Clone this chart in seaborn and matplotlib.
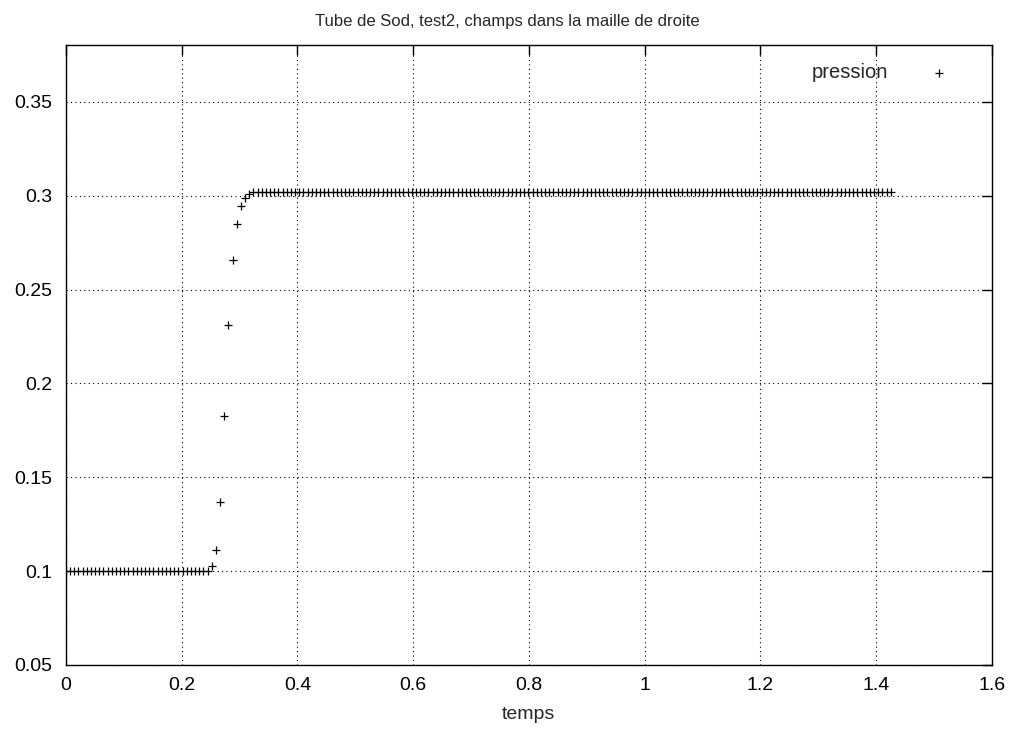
import numpy as np
import pandas as pd
import matplotlib
matplotlib.use('Agg')
import matplotlib.pyplot as plt
import seaborn as sns

# pas de temps (points equidistants)
dt = 0.0072
n_points = 199

# pression dans la maille de droite
p_gauche = [0.1] * 35
p_choc = [0.1028, 0.1114, 0.1367, 0.1826, 0.2312, 0.2657, 0.2849, 0.2944, 0.2986, 0.3009]
p_droite = [0.3021] * (n_points - len(p_gauche) - len(p_choc))
pression = p_gauche + p_choc + p_droite

xticks = [0, 0.2, 0.4, 0.6, 0.8, 1, 1.2, 1.4, 1.6]
xticklabels = ['0', '0.2', '0.4', '0.6', '0.8', '1', '1.2', '1.4', '1.6']
yticks = [0.05, 0.1, 0.15, 0.2, 0.25, 0.3, 0.35]
yticklabels = ['0.05', '0.1', '0.15', '0.2', '0.25', '0.3', '0.35']

df = pd.DataFrame({'temps': np.arange(n_points) * dt, 'pression': pression})

sns.set_style('white')
plt.rcParams['font.family'] = ['Liberation Sans', 'DejaVu Sans']

fig = plt.figure(figsize=(10.15, 7.33), dpi=100)
ax = fig.add_axes([0.065, 0.0928, 0.912, 0.8458])
sns.scatterplot(data=df, x='temps', y='pression', marker='+', color='black',
                s=36, linewidth=0.9, label='pression', ax=ax)

ax.set_xlim(0, 1.6)
ax.set_ylim(0.05, 0.3803)
ax.set_xticks(xticks)
ax.set_xticklabels(xticklabels)
ax.set_yticks(yticks)
ax.set_yticklabels(yticklabels)
ax.grid(True, linestyle=(0, (1, 3)), color='black', linewidth=0.8)
ax.tick_params(direction='in', length=7, width=1, top=True, right=True,
               labelsize=14, colors='black')
ax.tick_params(axis='y', pad=10)
ax.tick_params(axis='x', pad=9)
for sp in ax.spines.values():
    sp.set_color('black')
    sp.set_linewidth(1)

ax.set_xlabel('temps', fontsize=14, labelpad=8)
ax.set_ylabel('')
ax.set_title('Tube de Sod, test2, champs dans la maille de droite', fontsize=12,
             pad=14, x=0.477)
ax.legend(loc='upper right', frameon=False, markerfirst=False, fontsize=14.5,
          handletextpad=1.5, borderaxespad=0.5, bbox_to_anchor=(0.984, 1.0))

fig.savefig('out.png', dpi=100)
